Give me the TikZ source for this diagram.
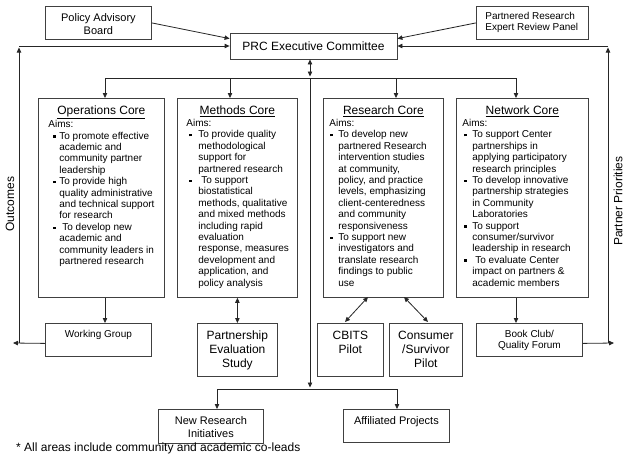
\documentclass[tikz,border=0pt]{standalone}
\usepackage{fontspec}
\setmainfont{Liberation Sans}
\usetikzlibrary{arrows.meta}
\newcommand\sqb{\raisebox{1.5pt}{\rule{2.3pt}{2.3pt}}}
\newcommand\bitem[3]{\par{\leftskip=#2\relax\noindent\hspace*{\dimexpr#1-#2\relax}\makebox[\dimexpr#2-#1\relax][l]{\sqb}#3\par}}
\newcommand\tb[4]{\parbox[t][#2][t]{#1}{\centering\rule{0pt}{#3}#4}}
\begin{document}
\begin{tikzpicture}[x=1pt,y=-1pt,
  box/.style={draw=black!75, line width=0.8pt, fill=white, inner sep=0pt, anchor=north west},
  arr/.style={draw=black!85, line width=0.8pt, -{Triangle[length=5pt,width=4.4pt]}},
  darr/.style={draw=black!85, line width=0.8pt, {Triangle[length=5pt,width=4.4pt]}-{Triangle[length=5pt,width=4.4pt]}},
  ln/.style={draw=black!85, line width=0.8pt},
  f12/.style={font=\fontsize{12}{14}\selectfont},
  f11/.style={font=\fontsize{11}{13}\selectfont},
  f10/.style={font=\fontsize{10}{11}\selectfont}]

\fill[white] (0,0) rectangle (629,461);

% top boxes
\node[box,f11] (pab) at (45,6) {\tb{106pt}{33pt}{15pt}{Policy Advisory\\Board}};
\node[box,f12,anchor=center,minimum width=167pt,minimum height=26pt] (exec) at (313.5,46) {PRC Executive Committee};
\node[box,f10] (prerp) at (476,6) {\parbox[t][33pt][t]{112pt}{\raggedright\leftskip=9pt\rule{0pt}{13.5pt}Partnered Research\\Expert Review Panel}};

% core boxes
\node[box] (ops) at (38,98) {\parbox[t][199pt][t]{126pt}{%
 \centering\fontsize{12}{14}\selectfont\rule{0pt}{16pt}\underline{Operations Core}\par
 \raggedright\fontsize{10}{11.4}\selectfont\vspace{0.6pt}%
 \noindent\hspace*{10pt}Aims:%
 \bitem{15pt}{21pt}{To promote effective\\academic and\\community partner\\leadership}%
 \bitem{15pt}{21pt}{To provide high\\quality administrative\\and technical support\\for research}%
 \bitem{15pt}{21pt}{\hspace*{3pt}To develop new\\academic and\\community leaders in\\partnered research}}};

\node[box] (meth) at (177,98) {\parbox[t][199pt][t]{120pt}{%
 \centering\fontsize{12}{14}\selectfont\rule{0pt}{16pt}\underline{Methods Core}\par
 \raggedright\fontsize{10}{11.4}\selectfont\vspace{0.6pt}%
 \noindent\hspace*{9pt}Aims:%
 \bitem{12pt}{21pt}{To provide quality\\methodological\\support for\\partnered research}%
 \bitem{12pt}{21pt}{\hspace*{3pt}To support\\biostatistical\\methods, qualitative\\and mixed methods\\including rapid\\evaluation\\response, measures\\development and\\application, and\\policy analysis}}};

\node[box] (res) at (323,98) {\parbox[t][199pt][t]{120pt}{%
 \centering\fontsize{12}{14}\selectfont\rule{0pt}{16pt}\underline{Research Core}\par
 \raggedright\fontsize{10}{11.4}\selectfont\vspace{0.6pt}%
 \noindent\hspace*{6pt}Aims:%
 \bitem{7pt}{15pt}{To develop new\\partnered Research\\intervention studies\\at community,\\policy, and practice\\levels, emphasizing\\client-centeredness\\and community\\responsiveness}%
 \bitem{7pt}{15pt}{To support new\\investigators and\\translate research\\findings to public\\use}}};

\node[box] (net) at (456,98) {\parbox[t][199pt][t]{132pt}{%
 \centering\fontsize{12}{14}\selectfont\rule{0pt}{16pt}\underline{Network Core}\par
 \raggedright\fontsize{10}{11.4}\selectfont\vspace{0.6pt}%
 \noindent\hspace*{6pt}Aims:%
 \bitem{8pt}{16pt}{To support Center\\partnerships in\\applying participatory\\research principles}%
 \bitem{8pt}{16pt}{To develop innovative\\partnership strategies\\in Community\\Laboratories}%
 \bitem{8pt}{16pt}{To support\\consumer/survivor\\leadership in research}%
 \bitem{8pt}{16pt}{\hspace*{3pt}To evaluate Center\\impact on partners \&\\academic members}}};

% lower boxes
\node[box,f10] (wg) at (45,323) {\tb{106pt}{33pt}{14pt}{Working Group}};
\node[box,f12] (pes) at (197,323) {\tb{80pt}{53pt}{16pt}{Partnership\\Evaluation\\Study}};
\node[box,f12] (cbits) at (317,323) {\tb{66pt}{53pt}{16pt}{CBITS\\Pilot}};
\node[box,f12] (cons) at (389,323) {\tb{73pt}{53pt}{16pt}{Consumer\\/Survivor\\Pilot}};
\node[box,f10] (bc) at (476,323) {\tb{106pt}{33pt}{14.5pt}{Book Club/\\Quality Forum}};
\node[box,font=\fontsize{11}{12.7}\selectfont] (nri) at (158,409) {\tb{105pt}{34pt}{15.5pt}{New Research\\Initiatives}};
\node[box,f11] (ap) at (343,409) {\tb{106pt}{33pt}{15pt}{Affiliated Projects}};

% side labels and footnote
\node[f12,rotate=90] (outc) at (10,204) {Outcomes};
\node[f12,rotate=90] (pp) at (618,201) {Partner Priorities};
\node[f12,anchor=west,inner sep=0pt] (fn) at (16,448) {* All areas include community and academic co-leads};

% coordinates
\coordinate (hub) at (310,78);
\coordinate (hubL) at (105,78);
\coordinate (hubR) at (516,78);
\coordinate (hm) at (230,78);
\coordinate (hr) at (396,78);
\coordinate (bot) at (310,389);
\coordinate (botL) at (217,389);
\coordinate (botR) at (397,389);
\coordinate (lout) at (13,343);
\coordinate (lbot) at (19,343);
\coordinate (ltop) at (19,47.5);
\coordinate (lhor) at (19,46);
\coordinate (rout) at (614,343);
\coordinate (rbot) at (608,343);
\coordinate (rtop) at (608,47.5);
\coordinate (rhor) at (608,46);
\coordinate (r1a) at (368,297);
\coordinate (r1b) at (345,322);
\coordinate (r2a) at (404,297);
\coordinate (r2b) at (428,322);

% connectors top
\draw[arr] (pab.east) -- ([yshift=-6pt]exec.north west);
\draw[arr] (prerp.west) -- ([yshift=-6pt]exec.north east);
\draw[darr] (exec.south -| hub) -- ([yshift=1.5pt]hub);
\draw[ln] (hubL) -- (hubR);
\draw[arr] (hubL) -- (hubL |- ops.north);
\draw[arr] (hm) -- (hm |- meth.north);
\draw[arr] (hr) -- (hr |- res.north);
\draw[arr] (hubR) -- (hubR |- net.north);
\draw[arr] (hub) -- ([yshift=1.5pt]bot);
\draw[ln] (botL) -- (botR);
\draw[arr] (botL) -- (botL |- nri.north);
\draw[arr] (botR) -- (botR |- ap.north);

% core to lower
\draw[arr] (hubL |- ops.south) -- (hubL |- wg.north);
\draw[darr] (pes.north |- meth.south) -- (pes.north);
\draw[darr] (r1a) -- (r1b);
\draw[darr] (r2a) -- (r2b);
\draw[arr] (hubR |- net.south) -- (hubR |- bc.north);

% feedback loops
\draw[arr] ([yshift=-3.5pt]wg.west) -- (lout);
\draw[arr] (lbot) -- (ltop);
\draw[arr] (lhor) -- (exec.west);
\draw[arr] ([yshift=-3.5pt]bc.east) -- (rout);
\draw[arr] (rbot) -- (rtop);
\draw[arr] (rhor) -- (exec.east);
\end{tikzpicture}
\end{document}
